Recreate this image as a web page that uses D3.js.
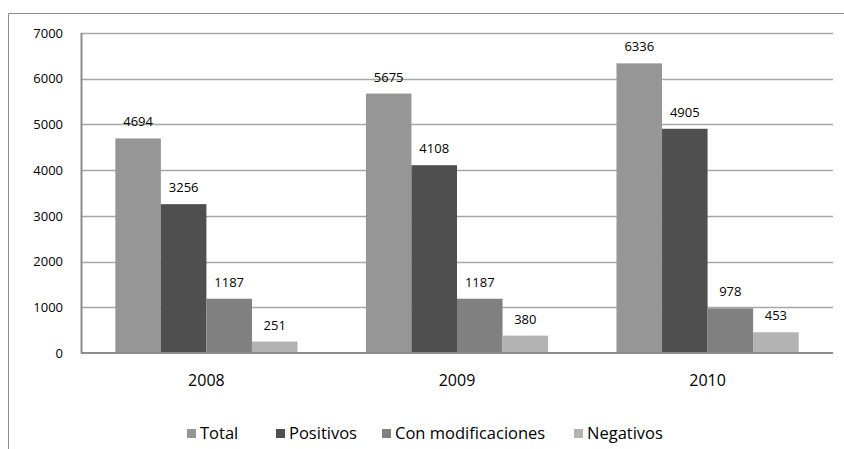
<!DOCTYPE html>
<html>
<head>
<meta charset="utf-8">
<script src="https://cdn.jsdelivr.net/npm/d3@7"></script>
<style>
  body { margin: 0; background: #fff; }
  svg { display: block; font-family: "Open Sans", "Noto Sans", sans-serif; }
</style>
</head>
<body>
<div id="chart"></div>
<script>
// chart data
const YEARS = ["2008", "2009", "2010"];
const SERIES = ["Total", "Positivos", "Con modificaciones", "Negativos"];
const TOTAL = [4694, 5675, 6336];
const POSITIVOS = [3256, 4108, 4905];
const CON_MOD = [1187, 1187, 978];
const NEGATIVOS = [251, 380, 453];
const Y_TICKS = [0, 1000, 2000, 3000, 4000, 5000, 6000, 7000];

const COLORS = ["#969696", "#4f4f4f", "#808080", "#b3b3b3"];

const F_WIDTH = 844;
const F_HEIGHT = 449;
const MARGINS = {left: 81, right: 11, top: 33, bottom: 96};

const VIS_WIDTH = F_WIDTH - MARGINS.left - MARGINS.right;
const VIS_HEIGHT = F_HEIGHT - MARGINS.top - MARGINS.bottom;

const VALUES = [TOTAL, POSITIVOS, CON_MOD, NEGATIVOS];

const FRAME = d3.select("#chart")
  .append("svg")
    .attr("width", F_WIDTH)
    .attr("height", F_HEIGHT);

// outer chart border (only top and left visible)
FRAME.append("path")
  .attr("d", "M8.5," + F_HEIGHT + "V13.5H" + F_WIDTH)
  .attr("fill", "none")
  .attr("stroke", "#8c8c8c")
  .attr("stroke-width", 1);

const X_SCALE = d3.scaleBand()
  .domain(YEARS)
  .range([0, VIS_WIDTH])
  .paddingInner(0.273)
  .paddingOuter(0.137);

const X_INNER = d3.scaleBand()
  .domain(SERIES)
  .range([0, X_SCALE.bandwidth()]);

const Y_SCALE = d3.scaleLinear()
  .domain([0, 7000])
  .range([VIS_HEIGHT, 0]);

const G = FRAME.append("g")
  .attr("transform", "translate(" + MARGINS.left + "," + MARGINS.top + ")");

// gridlines
G.append("g")
  .selectAll("line")
  .data(Y_TICKS.filter(d => d > 0))
  .enter()
  .append("line")
    .attr("x1", 0)
    .attr("x2", VIS_WIDTH)
    .attr("y1", d => Math.round(Y_SCALE(d)) + 0.5)
    .attr("y2", d => Math.round(Y_SCALE(d)) + 0.5)
    .attr("stroke", "#a6a6a6")
    .attr("stroke-width", 1.5);

// y axis labels
const yAxis = G.append("g")
  .call(d3.axisLeft(Y_SCALE).tickValues(Y_TICKS).tickFormat(d3.format("d")).tickSize(0).tickPadding(18));
yAxis.select(".domain").remove();
yAxis.selectAll("text")
  .attr("font-size", 13)
  .attr("font-family", "'Open Sans', sans-serif")
  .attr("fill", "#000");

// bars
SERIES.forEach((s, i) => {
  G.append("g")
    .selectAll("rect")
    .data(YEARS)
    .enter()
    .append("rect")
      .attr("x", d => X_SCALE(d) + X_INNER(s))
      .attr("y", (d, j) => Y_SCALE(VALUES[i][j]))
      .attr("width", X_INNER.bandwidth())
      .attr("height", (d, j) => VIS_HEIGHT - Y_SCALE(VALUES[i][j]))
      .attr("fill", COLORS[i]);

  G.append("g")
    .selectAll("text")
    .data(YEARS)
    .enter()
    .append("text")
      .attr("x", d => X_SCALE(d) + X_INNER(s) + X_INNER.bandwidth() / 2)
      .attr("y", (d, j) => Y_SCALE(VALUES[i][j]) - 12)
      .attr("text-anchor", "middle")
      .attr("font-size", 13)
      .attr("fill", "#000")
      .text((d, j) => VALUES[i][j]);
});

// axis lines
G.append("line")
  .attr("x1", 0.5).attr("x2", 0.5)
  .attr("y1", 0).attr("y2", VIS_HEIGHT)
  .attr("stroke", "#8c8c8c")
  .attr("stroke-width", 2);

G.append("line")
  .attr("x1", 0).attr("x2", VIS_WIDTH)
  .attr("y1", VIS_HEIGHT).attr("y2", VIS_HEIGHT)
  .attr("stroke", "#8c8c8c")
  .attr("stroke-width", 2);

// x axis labels
const xAxis = G.append("g")
  .attr("transform", "translate(0," + VIS_HEIGHT + ")")
  .call(d3.axisBottom(X_SCALE).tickSize(0).tickPadding(22));
xAxis.select(".domain").remove();
xAxis.selectAll("text")
  .attr("font-size", 16)
  .attr("font-family", "'Open Sans', sans-serif")
  .attr("fill", "#000");

// legend
const LEGEND_X = [187, 276, 382, 574];
const legend = FRAME.append("g");
SERIES.forEach((s, i) => {
  legend.append("rect")
    .attr("x", LEGEND_X[i])
    .attr("y", 429)
    .attr("width", 9)
    .attr("height", 9)
    .attr("fill", COLORS[i]);
  legend.append("text")
    .attr("x", LEGEND_X[i] + 13)
    .attr("y", 439)
    .attr("font-size", 16.5)
    .attr("fill", "#000")
    .text(s);
});
</script>
</body>
</html>
